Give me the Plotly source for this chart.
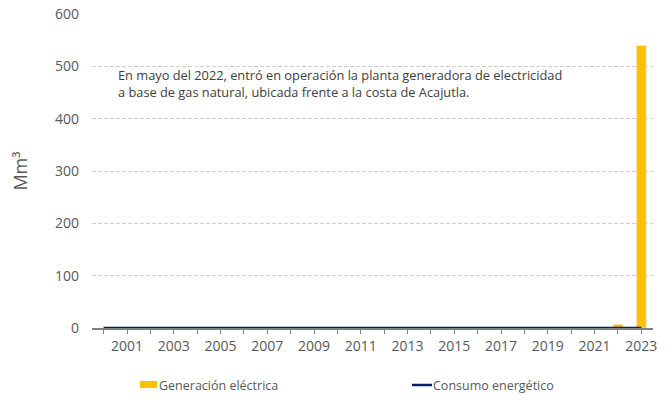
import plotly.graph_objects as go

years = list(range(2000, 2024))
generacion = [0]*22 + [7, 540]
consumo = [0]*24
tick_text = [str(y) if y % 2 == 1 else "" for y in years]
series_names = ["Generación eléctrica", "Consumo energético"]
series_colors = ["#FFC000", "#002060"]

FONT = "Open Sans"
GRAY = "#595959"
L, R, T, B = 92, 19, 14, 72
W, H = 672, 400
PW, PH = W - L - R, H - T - B

def px_x(x):
    return (x - L) / PW

def px_y(y):
    return (H - B - y) / PH

fig = go.Figure()
fig.add_trace(go.Bar(x=years, y=generacion, name=series_names[0],
                     marker_color=series_colors[0], width=0.42))
fig.add_trace(go.Scatter(x=years, y=consumo, name=series_names[1],
                         mode="lines", line=dict(color=series_colors[1], width=2.5)))

fig.update_layout(
    width=W, height=H,
    margin=dict(l=L, r=R, t=T, b=B, autoexpand=False),
    plot_bgcolor="white", paper_bgcolor="white",
    font=dict(family=FONT, color=GRAY, size=14),
    showlegend=False,
    bargap=0.5,
)
fig.update_xaxes(range=[1999.5, 2023.5], tickmode="array", tickvals=years, ticktext=tick_text,
                 ticks="outside", ticklen=4, tickcolor="#808080",
                 showline=True, linecolor="#808080", linewidth=1.5,
                 showgrid=False, tickfont=dict(size=14, color=GRAY))
fig.update_yaxes(range=[0, 600], dtick=100, showgrid=True, gridcolor="#d0d0d0",
                 griddash="4px,2px", gridwidth=1, zeroline=False, showline=False,
                 tickfont=dict(size=14, color=GRAY), ticklabelstandoff=12,
                 title=dict(text="Mm³", font=dict(size=18, color=GRAY), standoff=22))

fig.add_annotation(xref="paper", yref="paper", x=px_x(116), y=px_y(64), xanchor="left", yanchor="top",
                   align="left", showarrow=False,
                   text="En mayo del 2022, entró en operación la planta generadora de electricidad<br>a base de gas natural, ubicada frente a la costa de Acajutla.",
                   font=dict(size=12.8, color="#404040"))

# custom legend
fig.add_shape(type="rect", xref="paper", yref="paper",
              x0=px_x(140), x1=px_x(157), y0=px_y(388), y1=px_y(381),
              fillcolor=series_colors[0], line_width=0)
fig.add_shape(type="line", xref="paper", yref="paper",
              x0=px_x(412), x1=px_x(432), y0=px_y(385), y1=px_y(385),
              line=dict(color=series_colors[1], width=2.5))
fig.add_annotation(xref="paper", yref="paper", x=px_x(157), y=px_y(385), xanchor="left", yanchor="middle",
                   showarrow=False, text=series_names[0], font=dict(size=12.5, color=GRAY))
fig.add_annotation(xref="paper", yref="paper", x=px_x(431), y=px_y(385), xanchor="left", yanchor="middle",
                   showarrow=False, text=series_names[1], font=dict(size=12.5, color=GRAY))

fig.write_html("out.html", config={"displayModeBar": False},
               post_script="document.body.style.margin='0px';document.body.style.overflow='hidden';")
